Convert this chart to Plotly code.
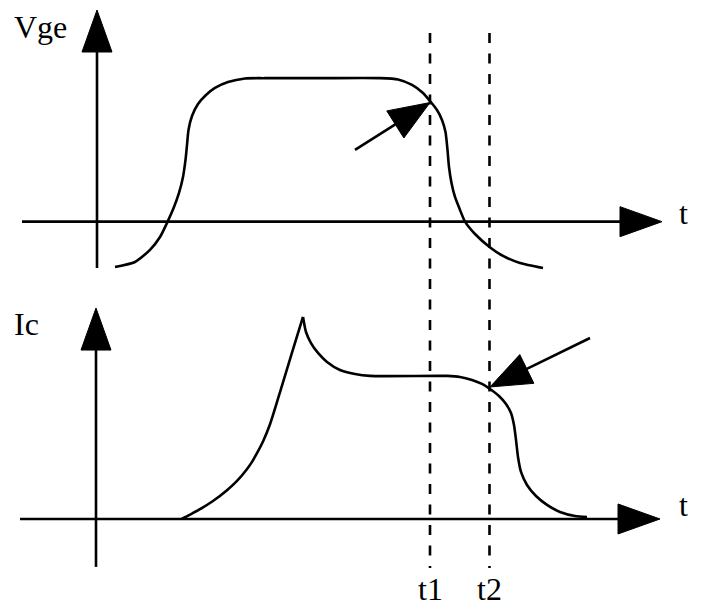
import math
import plotly.graph_objects as go

# ---------------- data (arbitrary time units, normalised amplitudes) ----------------
t_vge = [0.18, 0.38, 0.53, 0.63, 0.706, 0.77, 0.82, 0.86, 0.885, 0.90, 0.915, 0.95, 1.01,
         1.09, 1.18, 1.31, 1.48, 1.68, 2.23, 2.83, 3.01, 3.15, 3.26, 3.33, 3.40, 3.45,
         3.485, 3.505, 3.52, 3.545, 3.58, 3.63, 3.68, 3.78, 3.925, 4.06, 4.23, 4.46]
vge = [-0.316, -0.281, -0.197, -0.107, 0.0, 0.102, 0.2, 0.311, 0.43, 0.534, 0.639, 0.736, 0.82,
       0.883, 0.932, 0.973, 0.998, 1.0, 1.0, 1.0, 0.991, 0.953, 0.897, 0.841, 0.778, 0.709,
       0.625, 0.5, 0.381, 0.27, 0.172, 0.082, 0.0, -0.086, -0.176, -0.239, -0.288, -0.323]

t_ic_rise = [0.847, 0.93, 1.03, 1.16, 1.297, 1.40, 1.497, 1.55, 1.597, 1.66, 1.73, 1.85, 1.95, 2.06]
ic_rise = [0.0, 0.03, 0.068, 0.125, 0.198, 0.265, 0.345, 0.398, 0.455, 0.54, 0.66, 0.93, 1.16, 1.408]

t_ic_fall = [2.06, 2.09, 2.14, 2.21, 2.30, 2.43, 2.58, 2.73, 3.50, 3.63, 3.75, 3.85, 3.93,
             4.02, 4.09, 4.14, 4.17, 4.19, 4.21, 4.24, 4.30, 4.39, 4.50, 4.63, 4.78, 4.90]
ic_fall = [1.408, 1.303, 1.226, 1.157, 1.094, 1.038, 1.010, 0.997, 0.997, 0.99, 0.969, 0.941,
           0.906, 0.857, 0.801, 0.739, 0.655, 0.551, 0.432, 0.328, 0.237, 0.16, 0.098, 0.049,
           0.021, 0.014]

t_marks = [3.33, 3.925]
mark_labels = ["t1", "t2"]
y_labels = ["Vge", "Ic"]
x_label = "t"

# pointer arrows: (tail_t, tail_y) -> (tip_t, tip_y)
vge_pointer = [(2.58, 0.50), (3.33, 0.83)]
ic_pointer = [(4.93, 1.261), (3.93, 0.92)]

# ---------------- geometry helpers ----------------
PX_X = 100.0     # px per time unit
PX_Y = 143.5     # px per amplitude unit
INK = "black"
LW = 2.6
FONT = dict(family="Liberation Serif, Times New Roman, serif", size=32, color=INK)

fig = go.Figure()
shapes = []


def head(tail, tip, yref, length=40, half=15):
    dx = (tip[0] - tail[0]) * PX_X
    dy = (tip[1] - tail[1]) * PX_Y
    n = math.hypot(dx, dy)
    ux, uy = dx / n, dy / n
    bx = tip[0] - length * ux / PX_X
    by = tip[1] - length * uy / PX_Y
    c1 = (bx - half * uy / PX_X, by + half * ux / PX_Y)
    c2 = (bx + half * uy / PX_X, by - half * ux / PX_Y)
    shapes.append(dict(type="path", xref="x", yref=yref,
                       path=f"M {tip[0]},{tip[1]} L {c1[0]},{c1[1]} L {c2[0]},{c2[1]} Z",
                       fillcolor=INK, line=dict(color=INK, width=1)))
    shapes.append(dict(type="line", xref="x", yref=yref, x0=tail[0], y0=tail[1],
                       x1=bx, y1=by, line=dict(color=INK, width=LW)))


# axes of the two panels
head((-0.75, 0.0), (5.65, 0.0), "y", length=42, half=15)
head((0.0, -0.323), (0.0, 1.475), "y", length=42, half=15)
head((-0.77, 0.0), (5.63, 0.0), "y2", length=42, half=15)
head((-0.01, -0.334), (-0.01, 1.47), "y2", length=42, half=15)

# pointer arrows
head(vge_pointer[0], vge_pointer[1], "y", length=41, half=16)
head(ic_pointer[0], ic_pointer[1], "y2", length=41, half=16)

# dashed time markers spanning both panels
for tm in t_marks:
    shapes.append(dict(type="line", xref="x", yref="y", x0=tm, x1=tm, y0=1.315, y1=-2.413,
                       line=dict(color=INK, width=2.6, dash="10px,10.5px")))

# curves
fig.add_trace(go.Scatter(x=t_vge, y=vge, mode="lines", yaxis="y",
                         line=dict(color=INK, width=LW, shape="spline", smoothing=0.6),
                         hoverinfo="skip", showlegend=False))
fig.add_trace(go.Scatter(x=t_ic_rise, y=ic_rise, mode="lines", yaxis="y2",
                         line=dict(color=INK, width=LW, shape="spline", smoothing=0.8),
                         hoverinfo="skip", showlegend=False))
fig.add_trace(go.Scatter(x=t_ic_fall, y=ic_fall, mode="lines", yaxis="y2",
                         line=dict(color=INK, width=LW, shape="spline", smoothing=0.6),
                         hoverinfo="skip", showlegend=False))

annotations = [
    dict(text=y_labels[0], x=-0.85, y=1.36, xref="x", yref="y", xanchor="left",
         yanchor="middle", showarrow=False, font=FONT),
    dict(text=y_labels[1], x=-0.85, y=1.36, xref="x", yref="y2", xanchor="left",
         yanchor="middle", showarrow=False, font=FONT),
    dict(text=x_label, x=5.86, y=0.06, xref="x", yref="y", xanchor="center",
         yanchor="middle", showarrow=False, font=FONT),
    dict(text=x_label, x=5.86, y=0.098, xref="x", yref="y2", xanchor="center",
         yanchor="middle", showarrow=False, font=FONT),
]
for tm, lab in zip(t_marks, mark_labels):
    annotations.append(dict(text=lab, x=tm, y=-0.49, xref="x", yref="y2", xanchor="center",
                            yanchor="middle", showarrow=False, font=FONT))

# The page body has an 8 px default margin, so the axis windows start 8 px in.
fig.update_layout(
    width=702, height=611,
    margin=dict(l=0, r=0, t=0, b=0),
    paper_bgcolor="white", plot_bgcolor="white",
    xaxis=dict(range=[-0.89, 6.13], visible=False, fixedrange=True),
    yaxis=dict(range=[-2.769, 1.489], visible=False, fixedrange=True),
    yaxis2=dict(range=[-0.697, 3.561], visible=False, overlaying="y", fixedrange=True),
    shapes=shapes,
    annotations=annotations,
    showlegend=False,
)

fig.write_html("out.html")
